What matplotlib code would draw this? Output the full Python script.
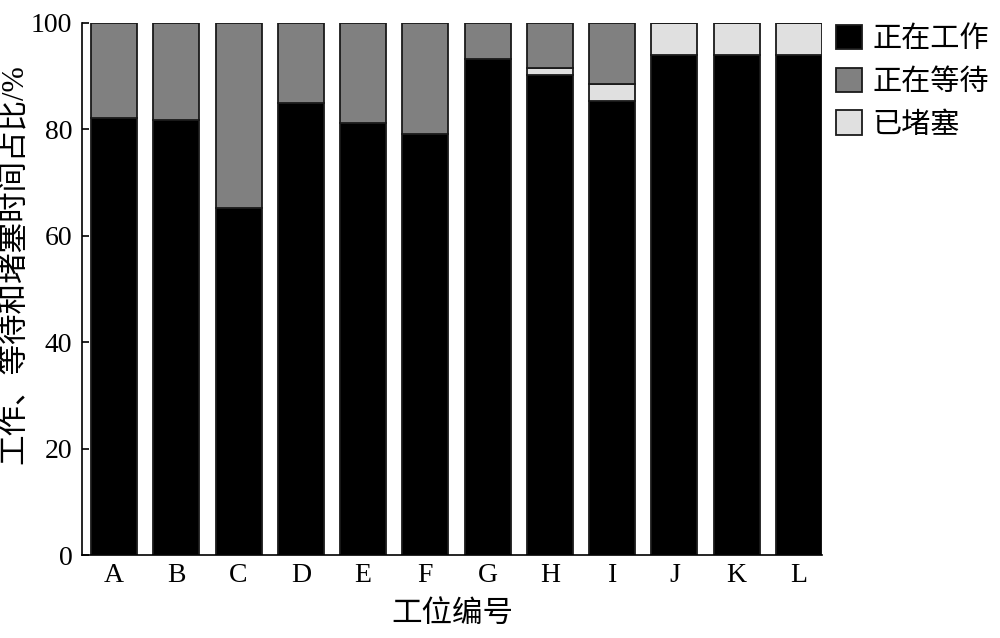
import matplotlib
matplotlib.use("Agg")
import matplotlib.pyplot as plt
import numpy as np

plt.rcParams["font.family"] = ["Liberation Serif", "Noto Sans CJK SC"]

stations = ["A", "B", "C", "D", "E", "F", "G", "H", "I", "J", "K", "L"]
working = [82.1, 81.8, 65.3, 85.0, 81.2, 79.2, 93.3, 90.3, 85.3, 93.9, 93.9, 93.9]
blocked = [0.0, 0.0, 0.0, 0.0, 0.0, 0.0, 0.0, 1.2, 3.2, 6.1, 6.1, 6.1]
waiting = [100 - w - b for w, b in zip(working, blocked)]

series_labels = ["正在工作", "正在等待", "已堵塞"]
colors = ["#000000", "#808080", "#e0e0e0"]

fig = plt.figure(figsize=(10, 6.38), dpi=100)
ax = fig.add_axes([0.082, 0.130, 0.740, 0.834])

x = np.arange(len(stations))
w = np.array(working)
b = np.array(blocked)
g = np.array(waiting)
kw = dict(width=0.74, edgecolor="#1a1a1a", linewidth=1.3)
h1 = ax.bar(x, w, color=colors[0], label=series_labels[0], **kw)
# blocked sits right on top of working, waiting above that
h3 = ax.bar(x, b, bottom=w, color=colors[2], label=series_labels[2], **kw)
h2 = ax.bar(x, g, bottom=w + b, color=colors[1], label=series_labels[1], **kw)

ax.set_xlim(-0.515, 11.37)
ax.set_ylim(0, 100)
ax.set_xticks(x)
ax.set_xticklabels(stations)
ax.set_yticks(range(0, 101, 20))
ax.tick_params(axis="x", length=0, pad=6, labelsize=20)
ax.tick_params(axis="y", direction="in", length=5, width=1.2, pad=7, labelsize=20)
for s in ["top", "right"]:
    ax.spines[s].set_visible(False)
for s in ["left", "bottom"]:
    ax.spines[s].set_linewidth(1.2)

ax.set_xlabel("工位编号", fontsize=22, labelpad=8)
ax.set_ylabel("工作、等待和堵塞时间占比/%", fontsize=22)
ax.yaxis.set_label_coords(-0.072, 0.547)

fig.legend([h1, h2, h3], series_labels, loc="upper left",
           bbox_to_anchor=(0.836, 0.961), frameon=False, fontsize=21,
           handlelength=0.9, handleheight=0.9, handletextpad=0.35,
           labelspacing=0.5, borderaxespad=0, borderpad=0)

fig.savefig("out.png", dpi=100)
